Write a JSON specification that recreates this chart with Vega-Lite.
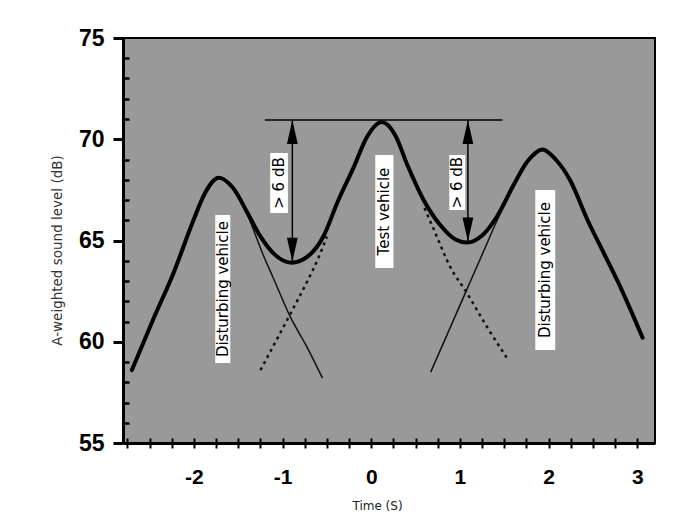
{
  "$schema": "https://vega.github.io/schema/vega-lite/v6.json",
  "width": 532,
  "height": 405,
  "autosize": {"type": "none"},
  "padding": {"left": 123, "top": 38, "right": 45, "bottom": 80},
  "background": "white",
  "config": {"view": {"fill": "#999999", "stroke": "black", "strokeWidth": 2}},
  "datasets": {
    "total": [
      {"t": -2.70, "L": 58.6}, {"t": -2.46, "L": 61.1}, {"t": -2.23, "L": 63.4}, {"t": -2.01, "L": 65.95},
      {"t": -1.88, "L": 67.3}, {"t": -1.72, "L": 68.1}, {"t": -1.56, "L": 67.6}, {"t": -1.40, "L": 66.4},
      {"t": -1.25, "L": 65.2}, {"t": -1.10, "L": 64.35}, {"t": -0.90, "L": 63.9}, {"t": -0.72, "L": 64.2},
      {"t": -0.54, "L": 65.2}, {"t": -0.38, "L": 66.9}, {"t": -0.20, "L": 68.6}, {"t": -0.05, "L": 70.1},
      {"t": 0.12, "L": 70.85}, {"t": 0.27, "L": 70.2}, {"t": 0.41, "L": 68.7}, {"t": 0.59, "L": 67.0},
      {"t": 0.78, "L": 65.75}, {"t": 0.95, "L": 65.05}, {"t": 1.08, "L": 64.9}, {"t": 1.25, "L": 65.25},
      {"t": 1.42, "L": 66.2}, {"t": 1.60, "L": 67.7}, {"t": 1.76, "L": 68.9}, {"t": 1.93, "L": 69.5},
      {"t": 2.08, "L": 69.0}, {"t": 2.24, "L": 68.0}, {"t": 2.44, "L": 66.0}, {"t": 2.62, "L": 64.4},
      {"t": 2.81, "L": 62.7}, {"t": 3.06, "L": 60.2}
    ],
    "dist": [
      {"s": "left", "t": -1.72, "L": 68.1}, {"s": "left", "t": -1.56, "L": 67.6}, {"s": "left", "t": -1.40, "L": 66.3},
      {"s": "left", "t": -1.22, "L": 64.3}, {"s": "left", "t": -1.11, "L": 63.2},
      {"s": "left", "t": -0.91, "L": 61.2}, {"s": "left", "t": -0.72, "L": 59.7}, {"s": "left", "t": -0.55, "L": 58.2},
      {"s": "right", "t": 0.67, "L": 58.5}, {"s": "right", "t": 0.89, "L": 60.7}, {"s": "right", "t": 1.08, "L": 62.6},
      {"s": "right", "t": 1.26, "L": 64.4}, {"s": "right", "t": 1.42, "L": 66.0}, {"s": "right", "t": 1.60, "L": 67.6},
      {"s": "right", "t": 1.76, "L": 68.85}, {"s": "right", "t": 1.93, "L": 69.5}
    ],
    "test": [
      {"s": "rise", "t": -1.25, "L": 58.6}, {"s": "rise", "t": -0.91, "L": 61.4}, {"s": "rise", "t": -0.72, "L": 63.0},
      {"s": "rise", "t": -0.60, "L": 64.1}, {"s": "rise", "t": -0.50, "L": 65.2},
      {"s": "fall", "t": 0.60, "L": 66.6}, {"s": "fall", "t": 0.70, "L": 65.6}, {"s": "fall", "t": 0.89, "L": 63.7},
      {"s": "fall", "t": 1.08, "L": 62.4}, {"s": "fall", "t": 1.31, "L": 60.7}, {"s": "fall", "t": 1.53, "L": 59.2}
    ],
    "hline": [{"t": -1.20, "t2": 1.48, "L": 70.95}],
    "arrows": [
      {"t": -0.89, "top": 70.95, "bot": 63.95},
      {"t": 1.09, "top": 70.95, "bot": 64.95}
    ],
    "labels": [
      {"label": "Disturbing vehicle", "t": -1.675, "L": 62.6, "t1": -1.76, "t2": -1.59, "L1": 66.26, "L2": 58.95},
      {"label": "Test vehicle", "t": 0.147, "L": 66.43, "t1": 0.045, "t2": 0.25, "L1": 69.22, "L2": 63.64},
      {"label": "Disturbing vehicle", "t": 1.96, "L": 63.54, "t1": 1.85, "t2": 2.075, "L1": 67.49, "L2": 59.59},
      {"label": "> 6 dB", "t": -1.04, "L": 67.84, "t1": -1.14, "t2": -0.94, "L1": 69.32, "L2": 66.36},
      {"label": "> 6 dB", "t": 0.97, "L": 67.86, "t1": 0.88, "t2": 1.06, "L1": 69.22, "L2": 66.51}
    ]
  },
  "resolve": {"axis": {"x": "independent", "y": "independent"}},
  "layer": [
    {
      "data": {"name": "dist"},
      "mark": {"type": "line", "interpolate": "monotone", "color": "#111111", "strokeWidth": 1.5},
      "encoding": {
        "x": {"field": "t", "type": "quantitative", "scale": {"domain": [-2.8, 3.2], "nice": false, "zero": false},
          "axis": {"orient": "bottom", "values": [-2.75, -2.5, -2.25, -2, -1.75, -1.5, -1.25, -1, -0.75, -0.5, -0.25, 0, 0.25, 0.5, 0.75, 1, 1.25, 1.5, 1.75, 2, 2.25, 2.5, 2.75, 3],
            "domain": false, "labels": false, "grid": false, "ticks": true, "tickSize": 10, "offset": -5, "tickWidth": 2, "tickColor": "black", "title": null}},
        "y": {"field": "L", "type": "quantitative", "scale": {"domain": [55, 75], "nice": false, "zero": false},
          "axis": {"orient": "left", "values": [56, 57, 58, 59, 61, 62, 63, 64, 66, 67, 68, 69, 71, 72, 73, 74],
            "domain": false, "labels": false, "grid": false, "ticks": true, "tickSize": 6, "offset": -6, "tickWidth": 2.5, "tickColor": "black", "title": null}},
        "detail": {"field": "s"}
      }
    },
    {
      "data": {"name": "test"},
      "mark": {"type": "line", "interpolate": "monotone", "color": "#111111", "strokeWidth": 2.5, "strokeDash": [3, 4]},
      "encoding": {
        "x": {"field": "t", "type": "quantitative", "scale": {"domain": [-2.8, 3.2], "nice": false, "zero": false}, "axis": null},
        "y": {"field": "L", "type": "quantitative", "scale": {"domain": [55, 75], "nice": false, "zero": false}, "axis": null},
        "detail": {"field": "s"}
      }
    },
    {
      "data": {"name": "total"},
      "mark": {"type": "line", "interpolate": "monotone", "color": "black", "strokeWidth": 4, "strokeCap": "round", "strokeJoin": "round"},
      "encoding": {
        "x": {"field": "t", "type": "quantitative", "scale": {"domain": [-2.8, 3.2], "nice": false, "zero": false},
          "axis": {"orient": "bottom", "values": [-2, -1, 0, 1, 2, 3], "ticks": false, "domain": true, "domainColor": "black", "domainWidth": 3, "grid": false,
            "labelFont": "Liberation Sans Narrow, Liberation Sans", "labelFontSize": 21, "labelFontWeight": "bold", "labelColor": "black",
            "labelPadding": 23, "labelBaseline": "top", "labelFlush": false, "labelExpr": "'' + datum.value",
            "title": "Time (S)", "titleFont": "DejaVu Sans", "titleFontSize": 12, "titleFontWeight": "normal", "titleColor": "#222222",
            "titleX": 254, "titleY": 62, "titleBaseline": "middle", "titleAlign": "center"}},
        "y": {"field": "L", "type": "quantitative", "scale": {"domain": [55, 75], "nice": false, "zero": false},
          "axis": {"orient": "left", "values": [55, 60, 65, 70, 75], "ticks": true, "tickSize": 10, "tickWidth": 3, "tickColor": "black",
            "domain": true, "domainWidth": 3, "domainColor": "black", "grid": false,
            "labelFont": "Liberation Sans Narrow, Liberation Sans", "labelFontSize": 23, "labelFontWeight": "bold", "labelColor": "black",
            "labelPadding": 9, "labelFlush": false,
            "title": "A-weighted sound level (dB)", "titleFont": "DejaVu Sans", "titleFontSize": 13.5, "titleFontWeight": "normal", "titleColor": "#333333",
            "titleX": -66, "titleY": 212, "titleAngle": 270, "titleBaseline": "middle", "titleAlign": "center"}}
      }
    },
    {
      "data": {"name": "hline"},
      "mark": {"type": "rule", "color": "black", "strokeWidth": 1.5},
      "encoding": {
        "x": {"field": "t", "type": "quantitative", "scale": {"domain": [-2.8, 3.2], "nice": false, "zero": false}, "axis": null},
        "x2": {"field": "t2"},
        "y": {"field": "L", "type": "quantitative", "scale": {"domain": [55, 75], "nice": false, "zero": false}, "axis": null}
      }
    },
    {
      "data": {"name": "arrows"},
      "mark": {"type": "rule", "color": "black", "strokeWidth": 1.5},
      "encoding": {
        "x": {"field": "t", "type": "quantitative", "scale": {"domain": [-2.8, 3.2], "nice": false, "zero": false}, "axis": null},
        "y": {"field": "top", "type": "quantitative", "scale": {"domain": [55, 75], "nice": false, "zero": false}, "axis": null},
        "y2": {"field": "bot"}
      }
    },
    {
      "data": {"name": "arrows"},
      "mark": {"type": "point", "shape": "M0,-1L0.45,1L-0.45,1Z", "size": 576, "filled": true, "color": "black", "opacity": 1, "yOffset": 12},
      "encoding": {
        "x": {"field": "t", "type": "quantitative", "scale": {"domain": [-2.8, 3.2], "nice": false, "zero": false}, "axis": null},
        "y": {"field": "top", "type": "quantitative", "scale": {"domain": [55, 75], "nice": false, "zero": false}, "axis": null}
      }
    },
    {
      "data": {"name": "arrows"},
      "mark": {"type": "point", "shape": "M0,1L0.45,-1L-0.45,-1Z", "size": 576, "filled": true, "color": "black", "opacity": 1, "yOffset": -12},
      "encoding": {
        "x": {"field": "t", "type": "quantitative", "scale": {"domain": [-2.8, 3.2], "nice": false, "zero": false}, "axis": null},
        "y": {"field": "bot", "type": "quantitative", "scale": {"domain": [55, 75], "nice": false, "zero": false}, "axis": null}
      }
    },
    {
      "data": {"name": "labels"},
      "mark": {"type": "rect", "color": "white", "opacity": 1},
      "encoding": {
        "x": {"field": "t1", "type": "quantitative", "scale": {"domain": [-2.8, 3.2], "nice": false, "zero": false}, "axis": null},
        "x2": {"field": "t2"},
        "y": {"field": "L1", "type": "quantitative", "scale": {"domain": [55, 75], "nice": false, "zero": false}, "axis": null},
        "y2": {"field": "L2"}
      }
    },
    {
      "data": {"name": "labels"},
      "mark": {"type": "text", "angle": 270, "align": "center", "baseline": "middle", "font": "DejaVu Sans", "fontSize": 15, "color": "black"},
      "encoding": {
        "x": {"field": "t", "type": "quantitative", "scale": {"domain": [-2.8, 3.2], "nice": false, "zero": false}, "axis": null},
        "y": {"field": "L", "type": "quantitative", "scale": {"domain": [55, 75], "nice": false, "zero": false}, "axis": null},
        "text": {"field": "label"}
      }
    }
  ]
}
